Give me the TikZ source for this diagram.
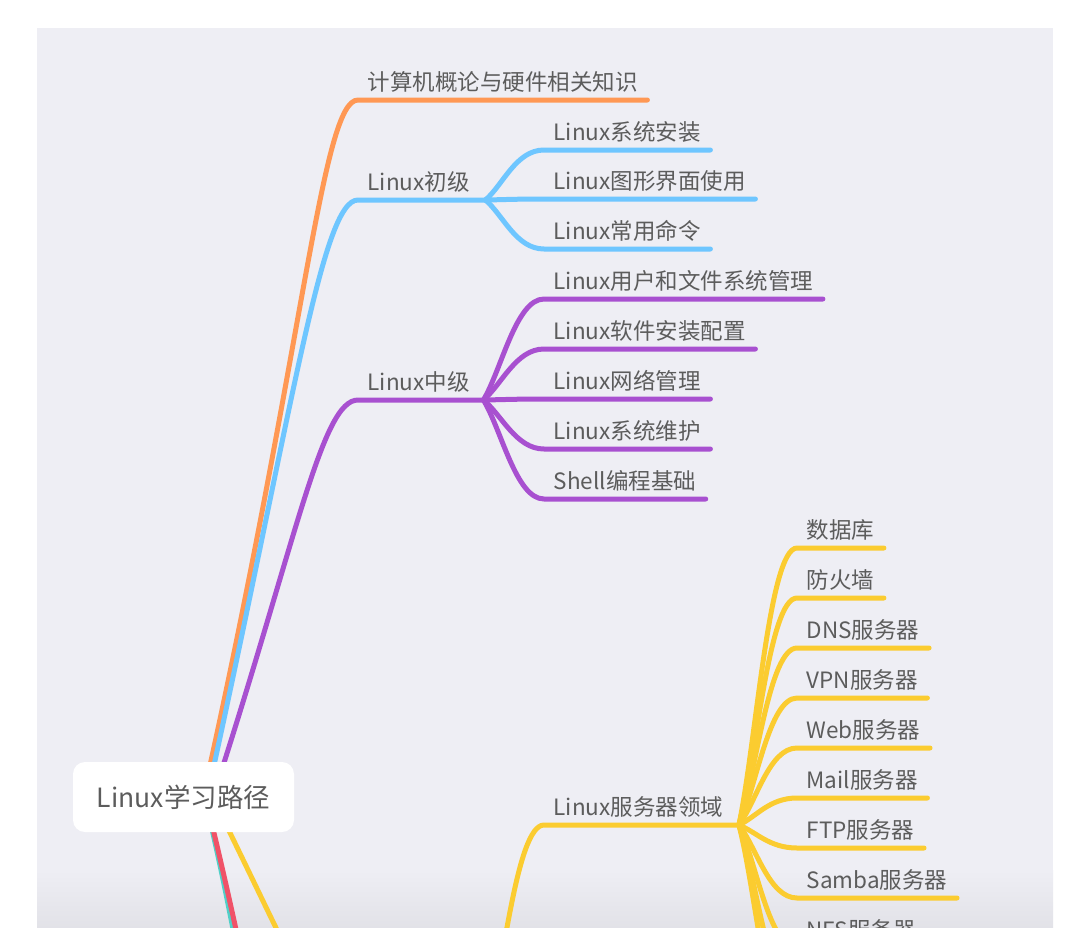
\documentclass[tikz,border=0pt]{standalone}
\usepackage{fontspec}
\setmainfont{Noto Sans CJK SC}
\usepackage{tikz}
\usetikzlibrary{positioning, calc}
\definecolor{bggray}{RGB}{238, 238, 244}
\definecolor{labelgray}{RGB}{92, 92, 92}
\definecolor{branchorange}{RGB}{255, 152, 84}
\definecolor{branchblue}{RGB}{110, 198, 255}
\definecolor{branchpurple}{RGB}{168, 80, 208}
\definecolor{branchyellow}{RGB}{251, 204, 48}
\definecolor{branchred}{RGB}{240, 82, 104}
\definecolor{branchteal}{RGB}{80, 208, 200}

\begin{document}
\begin{tikzpicture}[
        x=1pt, y=-1pt,
        % Labels sit on their branch: the south edge is the line
        topic/.style={
            anchor=south west,
            inner xsep=9.5pt,
            inner ysep=9pt,
            text depth=0pt,
            text=labelgray,
            font=\fontsize{22.5}{25}\selectfont
        },
        % Central node
        rootbox/.style={
            fill=white,
            rounded corners=12pt,
            minimum width=221pt,
            minimum height=70pt,
            text=labelgray,
            font=\fontsize{26.5}{30}\selectfont
        },
        branch/.style={line width=5pt, line cap=round}
    ]

    \useasboundingbox (0,0) rectangle (1089,945);
    \fill[white] (0,0) rectangle (1089,945);

    \begin{scope}
    \clip (37,28) rectangle (1053,927);

    % 1. Canvas with a soft shadow at the lower edge
    \fill[bggray] (37,28) rectangle (1053,927);
    \shade[top color=bggray, bottom color=bggray!95!black] (37,870) rectangle (1053,927);

    % 2. Orange branch
    \node[topic] (hw) at (358,100) {计算机概论与硬件相关知识};
    \draw[branch, branchorange] (203,797) .. controls (305,340) and (322,100) .. (hw.south west) -- (hw.south east);

    % 3. Blue branch and its leaves
    \node[topic] (basic) at (358,200) {Linux初级};
    \draw[branch, branchblue] (207,797) .. controls (294,403) and (322,200) .. (basic.south west) -- (basic.south east) -- ++(6,0) coordinate (basicfork);
    \foreach \y/\name/\txt in {150/b1/Linux系统安装, 199/b2/Linux图形界面使用, 249/b3/Linux常用命令} {
        \node[topic] (\name) at (544,\y) {\txt};
        \draw[branch, branchblue] (basicfork) .. controls ($(basicfork)!0.3!(\name.south west)$) and ($(\name.south west)+(-28,0)$) .. (\name.south west) -- (\name.south east);
    }

    % 4. Purple branch and its leaves
    \node[topic] (mid) at (358,400) {Linux中级};
    \draw[branch, branchpurple] (213,797) .. controls (298,535) and (322,400) .. (mid.south west) -- (mid.south east) -- ++(4,0) coordinate (midfork);
    \foreach \y/\name/\txt in {299/m1/Linux用户和文件系统管理, 349/m2/Linux软件安装配置, 399/m3/Linux网络管理, 449/m4/Linux系统维护, 499/m5/Shell编程基础} {
        \node[topic] (\name) at (544,\y) {\txt};
        \draw[branch, branchpurple] (midfork) .. controls ($(midfork)!0.3!(\name.south west)$) and ($(\name.south west)+(-28,0)$) .. (\name.south west) -- (\name.south east);
    }

    % 5. Red and teal branches leaving the canvas
    \coordinate (teal_end) at (360,1420);
    \coordinate (red_end) at (360,1300);
    \draw[branch, branchteal] (205,800) .. controls (267,1050) and (298,1420) .. (teal_end);
    \draw[branch, branchred] (206,800) .. controls (268,1050) and (300,1300) .. (red_end);

    % 6. Yellow branch: its parent lies below the canvas
    \coordinate (adv) at (360,1040);
    \draw[branch, branchyellow] (214,800) .. controls (312,1000) and (324,1040) .. (adv) -- ++(125,0) coordinate (advfork);
    \node[topic] (server) at (544,825) {Linux服务器领域};
    \draw[branch, branchyellow] (advfork) .. controls ($(advfork)!0.3!(server.south west)$) and ($(server.south west)+(-28,0)$) .. (server.south west) -- (server.south east) -- ++(6,0) coordinate (serverfork);
    \foreach \y/\name/\txt in {548/s1/数据库, 598/s2/防火墙, 648/s3/DNS服务器, 698/s4/VPN服务器, 748/s5/Web服务器, 798/s6/Mail服务器, 848/s7/FTP服务器, 898/s8/Samba服务器, 948/s9/NFS服务器} {
        \node[topic] (\name) at (797,\y) {\txt};
        \draw[branch, branchyellow] (serverfork) .. controls ($(serverfork)!0.3!(\name.south west)$) and ($(\name.south west)+(-28,0)$) .. (\name.south west) -- (\name.south east);
    }
    % leaves further down, out of view
    \foreach \y/\name in {998/s10, 1048/s11} {
        \coordinate (\name) at (797,\y);
        \draw[branch, branchyellow] (serverfork) .. controls ($(serverfork)!0.3!(\name)$) and ($(\name)+(-28,0)$) .. (\name) -- ++(100,0);
    }

    % 7. Root on top of the branch roots
    \node[rootbox] (root) at (183.5,797) {Linux学习路径};
    \end{scope}

\end{tikzpicture}
\end{document}
